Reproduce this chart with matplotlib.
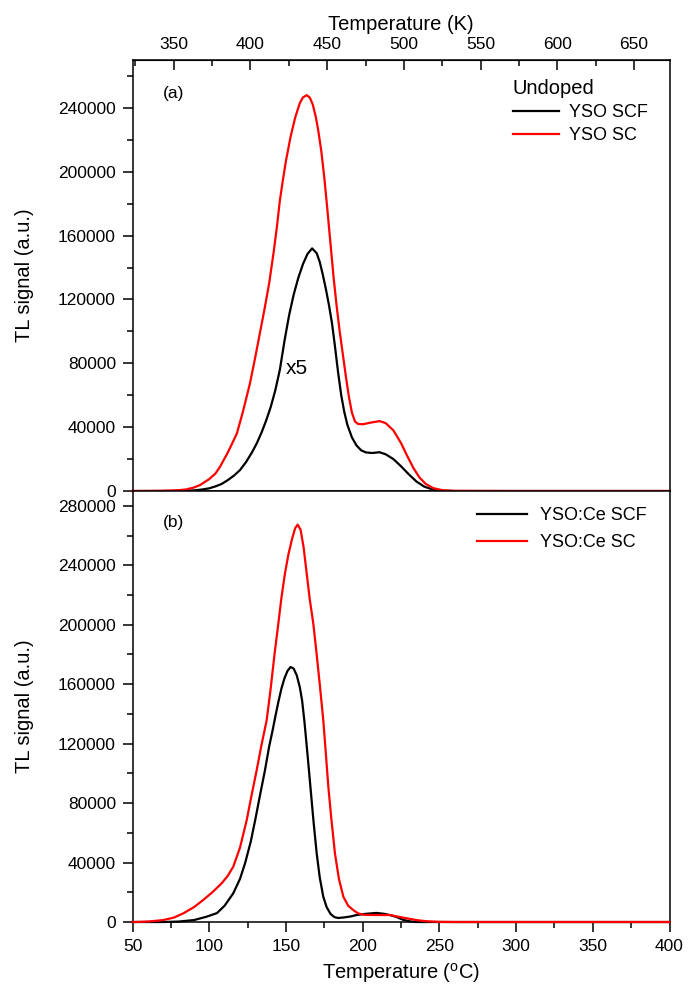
import matplotlib
matplotlib.use("Agg")
import matplotlib.pyplot as plt
from matplotlib.ticker import MultipleLocator

plt.rcParams['font.family'] = ['Liberation Sans', 'DejaVu Sans']
plt.rcParams['mathtext.fontset'] = 'custom'
plt.rcParams['mathtext.rm'] = 'Liberation Sans'

# (a) undoped, temperature in degC
t_a_scf = [50, 70, 80, 90, 95, 100, 104, 108, 112, 116, 120, 124, 128, 131, 134, 137, 140,
           143, 146, 149, 152, 155, 158, 161, 164, 167, 170, 172, 174, 176, 178, 180, 182,
           184, 186, 188, 190, 193, 196, 199, 202, 206, 211, 215, 220, 225, 230, 235, 240,
           246, 252, 260, 300, 350, 400]
tl_a_scf = [0, 0, 100, 400, 900, 1700, 2900, 4400, 6800, 9600, 13100, 18200, 24500, 30000,
            36500, 44000, 52500, 63000, 76000, 94000, 110000, 123000, 133500, 142000, 148500,
            152000, 149000, 143500, 135500, 126500, 116500, 105000, 90000, 74000, 60000,
            49500, 41500, 33500, 28500, 25500, 24200, 23800, 24300, 23000, 20000, 15500,
            10500, 6000, 2800, 800, 150, 0, 0, 0, 0]

t_a_sc = [50, 65, 75, 81, 85, 90, 94, 100, 104, 107, 112, 115, 118, 122, 126.5, 130, 133, 136,
          139, 142, 144, 146, 148, 150, 153, 156, 159, 161, 163.5, 165.5, 167.5, 169.5, 171,
          173, 175, 177, 179, 181, 183, 185, 187, 189, 191, 193, 195, 197, 200, 205, 211, 215,
          220, 225, 229, 233, 237, 241, 246, 252, 260, 300, 350, 400]
tl_a_sc = [0, 100, 300, 600, 1000, 2200, 3750, 7500, 11000, 15200, 24000, 30000, 36100, 50000,
           67400, 84000, 99000, 114000, 130000, 150000, 165000, 182000, 195000, 207000,
           222000, 234000, 243000, 246500, 248000, 246500, 242000, 234000, 226000, 213000,
           196000, 176000, 155000, 134000, 116000, 100000, 86000, 72000, 59000, 49000, 43500,
           42000, 41800, 42800, 43800, 42500, 38000, 30000, 22000, 14500, 8500, 4500, 1800,
           500, 100, 0, 0, 0]

# (b) Ce doped
t_b_scf = [50, 70, 80, 90, 98, 105, 110, 115.6, 120, 123.3, 127, 130, 133, 136.3, 139, 141.3,
           143, 145, 147, 149, 151, 153, 155, 157, 159, 160.5, 162, 164, 166, 168, 170, 172,
           174.3, 176.5, 179, 181.5, 184, 188, 192, 196, 202, 209, 214, 218, 222, 226.5, 231,
           235, 300, 400]
tl_b_scf = [0, 0, 300, 1300, 3500, 6000, 11000, 19300, 29000, 39500, 54000, 69000, 85000,
            102200, 118000, 129100, 138000, 148000, 157000, 164000, 169000, 171600, 170500,
            166000, 158000, 149000, 135000, 113000, 90000, 67000, 46200, 30000, 17000, 10000,
            5500, 3300, 2700, 3100, 3700, 4700, 5500, 6100, 5500, 4600, 3400, 1400, 400, 0,
            0, 0]

t_b_sc = [50, 55, 61, 70, 77, 83, 90, 96, 102, 108, 112, 115.6, 120, 124.4, 127.5, 130.9, 134,
          137.4, 140, 142.5, 145, 147, 149.3, 151.5, 154, 156, 157.6, 159.5, 161.5, 163.5,
          165.5, 167.8, 170, 172, 174.3, 176, 177.6, 179.5, 181.9, 184.5, 187.4, 190.5,
          193.9, 197, 201, 209, 217.8, 222, 228.7, 235, 241.7, 250, 260, 300, 400]
tl_b_sc = [0, 100, 400, 1300, 3000, 5800, 10000, 14800, 20000, 26000, 31000, 37200, 50000,
           68600, 85000, 102200, 119000, 135800, 157000, 180000, 200800, 218000, 234400,
           247000, 258000, 265000, 267400, 264000, 252000, 234400, 217000, 200800, 180000,
           160000, 135800, 113000, 91000, 70000, 46200, 29000, 17000, 11000, 8000, 5800,
           4800, 4700, 4700, 3800, 2500, 1300, 500, 100, 0, 0, 0]

yticks_a = [0, 40000, 80000, 120000, 160000, 200000, 240000]
yticks_b = [0, 40000, 80000, 120000, 160000, 200000, 240000, 280000]
cticks = [50, 100, 150, 200, 250, 300, 350, 400]
kticks = [350, 400, 450, 500, 550, 600, 650]

fig = plt.figure(figsize=(6.99, 9.84), dpi=100)
left, width = 0.1897, 0.7681
ax_a = fig.add_axes([left, 0.501, width, 0.438])
ax_b = fig.add_axes([left, 0.063, width, 0.438])

fs = 12.5
lfs = 14.5
lw = 1.6
for ax in (ax_a, ax_b):
    ax.set_xlim(50, 400)
    for s in ax.spines.values():
        s.set_linewidth(1.1)
    ax.yaxis.set_minor_locator(MultipleLocator(20000))
    ax.tick_params(axis='y', which='major', direction='out', length=7, width=1.1,
                   labelsize=fs, right=False, pad=5)
    ax.tick_params(axis='y', which='minor', direction='out', length=4, width=1.1, right=False)
    ax.set_ylabel('TL signal (a.u.)', fontsize=lfs)
    ax.yaxis.set_label_coords(-0.184, 0.5)

ax_a.plot(t_a_scf, tl_a_scf, color='black', lw=lw, label='YSO SCF', clip_on=False, zorder=3)
ax_a.plot(t_a_sc, tl_a_sc, color='red', lw=lw, label='YSO SC', clip_on=False, zorder=4)
ax_a.set_ylim(0, 270000)
ax_a.set_yticks(yticks_a)
ax_a.set_yticklabels([str(v) for v in yticks_a])
ax_a.tick_params(axis='x', which='both', bottom=False, top=False, labelbottom=False)
ax_a.text(69.8, 249000, '(a)', fontsize=fs, va='center', ha='left')
ax_a.text(157, 76800, 'x5', fontsize=15, va='center', ha='center')
ax_a.legend(title='Undoped', loc='upper left', bbox_to_anchor=(0.708, 0.955),
            frameon=False, fontsize=13, title_fontsize=lfs, handlelength=2.55,
            handletextpad=0.55, labelspacing=0.33, alignment='left',
            borderpad=0, borderaxespad=0)

ax_b.plot(t_b_scf, tl_b_scf, color='black', lw=lw, label='YSO:Ce SCF', clip_on=False, zorder=3)
ax_b.plot(t_b_sc, tl_b_sc, color='red', lw=lw, label='YSO:Ce SC', clip_on=False, zorder=4)
ax_b.set_ylim(0, 290000)
ax_b.set_yticks(yticks_b)
ax_b.set_yticklabels([str(v) for v in yticks_b])
ax_b.xaxis.set_minor_locator(MultipleLocator(25))
ax_b.set_xticks(cticks)
ax_b.tick_params(axis='x', which='major', direction='out', length=7, width=1.1,
                 labelsize=fs, top=False, pad=5)
ax_b.tick_params(axis='x', which='minor', direction='out', length=4, width=1.1, top=False)
ax_b.set_xlabel(r'Temperature ($^\mathregular{o}$C)', fontsize=lfs, labelpad=5)
ax_b.text(69.8, 269100, '(b)', fontsize=fs, va='center', ha='left')
ax_b.legend(loc='upper left', bbox_to_anchor=(0.641, 0.962), frameon=False, fontsize=13,
            handlelength=2.8, handletextpad=0.72, labelspacing=0.55,
            borderpad=0, borderaxespad=0)

# Kelvin scale on top of panel (a)
top = ax_a.secondary_xaxis('top', functions=(lambda c: c + 273.15, lambda k: k - 273.15))
top.set_xticks(kticks)
top.xaxis.set_minor_locator(MultipleLocator(25))
top.tick_params(axis='x', which='major', direction='in', length=7, width=1.1, labelsize=fs, pad=6)
top.tick_params(axis='x', which='minor', direction='in', length=4, width=1.1)
top.set_xlabel('Temperature (K)', fontsize=lfs, labelpad=5)

fig.savefig('out.png', dpi=100)
